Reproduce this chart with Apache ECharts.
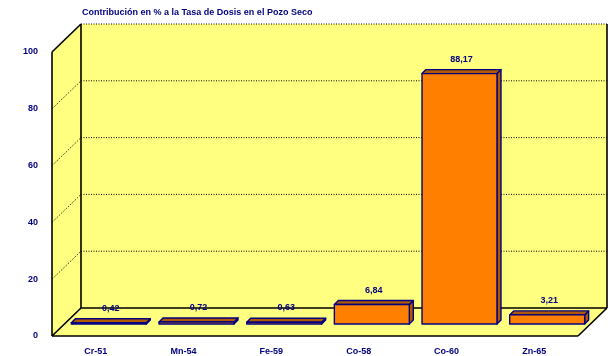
<!DOCTYPE html>
<html><head><meta charset="utf-8">
<script src="https://cdn.jsdelivr.net/npm/echarts@6/dist/echarts.min.js"></script>
<style>html,body{margin:0;padding:0;background:#fff}#c{width:610px;height:356px}</style>
</head><body><div id="c"></div>
<script>
var titleText = 'Contribución en % a la Tasa de Dosis en el Pozo Seco';
var categories = ['Cr-51', 'Mn-54', 'Fe-59', 'Co-58', 'Co-60', 'Zn-65'];
var values = [0.42, 0.72, 0.63, 6.84, 88.17, 3.21];
var gridValues = [20, 40, 60, 80];

var NAVY = '#000080';
var WALL = '#FFFF80';
var DX = 29, DY = -28;       // wall depth
var BX = 13, BY = -12;       // bar position in depth
var BD = 4;                  // bar own depth
var FONT = '"Liberation Sans", Arial, sans-serif';

var chart = echarts.init(document.getElementById('c'), null, {renderer: 'canvas'});

function bgRender(params, api) {
  var cs = params.coordSys;
  var x0 = cs.x, x1 = cs.x + cs.width, yT = cs.y, yB = cs.y + cs.height;
  var ch = [];
  var fill = {fill: WALL, stroke: null};
  ch.push({type: 'polygon', shape: {points: [[x0 + DX, yT + DY], [x1 + DX, yT + DY], [x1 + DX, yB + DY], [x0 + DX, yB + DY]]}, style: fill});
  ch.push({type: 'polygon', shape: {points: [[x0, yT], [x0 + DX, yT + DY], [x0 + DX, yB + DY], [x0, yB]]}, style: fill});
  ch.push({type: 'polygon', shape: {points: [[x0, yB], [x1, yB], [x1 + DX, yB + DY], [x0 + DX, yB + DY]]}, style: fill});
  var dotted = {stroke: '#000', lineWidth: 1, lineDash: [1, 1.5], fill: null};
  var solid = {stroke: '#000', lineWidth: 1.6, fill: null};
  gridValues.forEach(function (v) {
    var y = api.coord([0, v])[1];
    ch.push({type: 'line', shape: {x1: x0 + DX, y1: y + DY, x2: x1 + DX, y2: y + DY}, style: dotted});
    ch.push({type: 'line', shape: {x1: x0, y1: y, x2: x0 + DX, y2: y + DY}, style: dotted});
  });
  ch.push({type: 'line', shape: {x1: x0 + DX, y1: yT + DY, x2: x1 + DX, y2: yT + DY}, style: dotted});
  var segs = [
    [x0, yT, x0, yB],
    [x0, yT, x0 + DX, yT + DY],
    [x0 + DX, yT + DY, x0 + DX, yB + DY],
    [x0 + DX, yB + DY, x1 + DX, yB + DY],
    [x1 + DX, yT + DY, x1 + DX, yB + DY],
    [x0, yB, x1, yB],
    [x1, yB, x1 + DX, yB + DY],
    [x0, yB, x0 + DX, yB + DY]
  ];
  segs.forEach(function (s) {
    ch.push({type: 'line', shape: {x1: s[0], y1: s[1], x2: s[2], y2: s[3]}, style: solid});
  });
  return {type: 'group', children: ch};
}

function barRender(params, api) {
  var i = api.value(0), v = api.value(1);
  var c0 = api.coord([i, 0]), c1 = api.coord([i, v]);
  var bw = api.size([1, 0])[0] * 0.855;
  var l = c0[0] - bw / 2 + BX, r = c0[0] + bw / 2 + BX;
  var b = c0[1] + BY, t = c1[1] + BY;
  var st = {stroke: NAVY, lineWidth: 1.4, lineJoin: 'round'};
  var dark = '#B05800';
  return {type: 'group', children: [
    {type: 'polygon', shape: {points: [[r, t], [r + BD, t - BD], [r + BD, b - BD], [r, b]]}, style: Object.assign({fill: dark}, st)},
    {type: 'polygon', shape: {points: [[l, t], [l + BD, t - BD], [r + BD, t - BD], [r, t]]}, style: Object.assign({fill: dark}, st)},
    {type: 'rect', shape: {x: l, y: t, width: r - l, height: b - t}, style: Object.assign({fill: '#FF8000'}, st)},
    {type: 'text', x: (l + r) / 2 + 2, y: t - BD - 6,
      style: {text: String(v).replace('.', ','), fill: NAVY, font: 'bold 9px ' + FONT, align: 'center', verticalAlign: 'bottom'}}
  ]};
}

chart.setOption({
  animation: false,
  backgroundColor: '#fff',
  title: {text: titleText, left: 77, top: 3,
    textStyle: {fontSize: 9, fontWeight: 'bold', color: NAVY, fontFamily: FONT}},
  grid: {left: 52, right: 32, top: 52, bottom: 19},
  xAxis: {type: 'category', data: categories, boundaryGap: true,
    axisLine: {show: false}, axisTick: {show: false},
    axisLabel: {margin: 11, fontSize: 9, fontWeight: 'bold', color: NAVY, fontFamily: FONT}},
  yAxis: {type: 'value', min: 0, max: 100, interval: 20,
    axisLine: {show: false}, axisTick: {show: false}, splitLine: {show: false},
    axisLabel: {margin: 14, fontSize: 9, fontWeight: 'bold', color: NAVY, fontFamily: FONT}},
  series: [
    {type: 'custom', renderItem: bgRender, data: [[0, 0]], clip: false, z: 1, silent: true},
    {type: 'custom', renderItem: barRender, clip: false, z: 2,
      data: values.map(function (v, i) { return [i, v]; })}
  ]
});
</script></body></html>
